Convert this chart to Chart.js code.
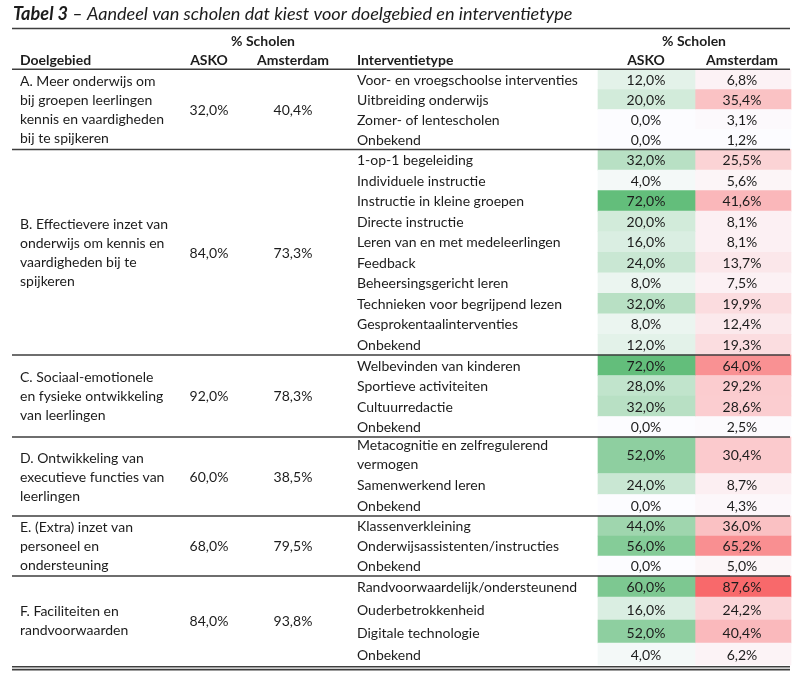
<!DOCTYPE html>
<html><head><meta charset="utf-8">
<script src="https://cdn.jsdelivr.net/npm/chart.js@4/dist/chart.umd.min.js"></script>
<style>html,body{margin:0;padding:0;background:#fff}canvas{display:block}</style>
</head><body>
<canvas id="c" width="799" height="684"></canvas>
<script>
// ---------- DATA ----------
const titleBold = "Tabel 3";
const titleRest = " \u2013 Aandeel van scholen dat kiest voor doelgebied en interventietype";
const groupHeader = "% Scholen";
const headersLeft = ["Doelgebied", "ASKO", "Amsterdam"];
const headersRight = ["Interventietype", "ASKO", "Amsterdam"];

const doelgebieden = [
  ["A. Meer onderwijs om", "bij groepen leerlingen", "kennis en vaardigheden", "bij te spijkeren"],
  ["B. Effectievere inzet van", "onderwijs om kennis en", "vaardigheden bij te", "spijkeren"],
  ["C. Sociaal-emotionele", "en fysieke ontwikkeling", "van leerlingen"],
  ["D. Ontwikkeling van", "executieve functies van", "leerlingen"],
  ["E. (Extra) inzet van", "personeel en", "ondersteuning"],
  ["F. Faciliteiten en", "randvoorwaarden"]
];
const doelAsko = [32.0, 84.0, 92.0, 60.0, 68.0, 84.0];
const doelAmsterdam = [40.4, 73.3, 78.3, 38.5, 79.5, 93.8];

const interventies = [
  "Voor- en vroegschoolse interventies", "Uitbreiding onderwijs", "Zomer- of lentescholen", "Onbekend",
  "1-op-1 begeleiding", "Individuele instructie", "Instructie in kleine groepen", "Directe instructie",
  "Leren van en met medeleerlingen", "Feedback", "Beheersingsgericht leren", "Technieken voor begrijpend lezen",
  "Gesprokentaalinterventies", "Onbekend",
  "Welbevinden van kinderen", "Sportieve activiteiten", "Cultuurredactie", "Onbekend",
  "Metacognitie en zelfregulerend\nvermogen", "Samenwerkend leren", "Onbekend",
  "Klassenverkleining", "Onderwijsassistenten/instructies", "Onbekend",
  "Randvoorwaardelijk/ondersteunend", "Ouderbetrokkenheid", "Digitale technologie", "Onbekend"
];
const interventieGroep = [0,0,0,0, 1,1,1,1,1,1,1,1,1,1, 2,2,2,2, 3,3,3, 4,4,4, 5,5,5,5];
const askoValues = [12.0, 20.0, 0.0, 0.0,
  32.0, 4.0, 72.0, 20.0, 16.0, 24.0, 8.0, 32.0, 8.0, 12.0,
  72.0, 28.0, 32.0, 0.0,
  52.0, 24.0, 0.0,
  44.0, 56.0, 0.0,
  60.0, 16.0, 52.0, 4.0];
const amsterdamValues = [6.8, 35.4, 3.1, 1.2,
  25.5, 5.6, 41.6, 8.1, 8.1, 13.7, 7.5, 19.9, 12.4, 19.3,
  64.0, 29.2, 28.6, 2.5,
  30.4, 8.7, 4.3,
  36.0, 65.2, 5.0,
  87.6, 24.2, 40.4, 6.2];

// ---------- LAYOUT ----------
const W = 799, H = 684;
const RULE_L = 12, RULE_R = 790;
const COL = { doel: 20, askoL: 209, amsL: 293, groupL: 263, inter: 357, askoR: 646, amsR: 742, groupR: 694 };
const CELL = { askoC: 646.5, askoW: 97, amsC: 743, amsW: 96 };
const BODY_TOP = 69.5;
const rowHeights = [20,20,20,20,
  20.55,20.55,20.55,20.55,20.55,20.55,20.55,20.55,20.55,20.55,
  20.5,20.5,20.5,20.5,
  36.5,21,21.5,
  20,20,20,
  21,23,23,22];
const rowTop = [], rowBot = [];
{ let y = BODY_TOP; rowHeights.forEach(h => { rowTop.push(y); y += h; rowBot.push(y); }); }

const FAMILY = "Lato, 'Open Sans', 'DejaVu Sans', sans-serif";
const TEXT = "#1c1c1c";
const LINE = "#3e3e3e";

const fmt = v => v.toFixed(1).replace('.', ',') + '%';
function mix(c0, c1, t) {
  t = Math.max(0, Math.min(1, t));
  const r = Math.round(c0[0] + (c1[0] - c0[0]) * t);
  const g = Math.round(c0[1] + (c1[1] - c0[1]) * t);
  const b = Math.round(c0[2] + (c1[2] - c0[2]) * t);
  return `rgb(${r},${g},${b})`;
}
const WHITE = [252,252,255], GREEN = [99,190,123], RED = [248,105,107];
const aMin = Math.min(...askoValues), aMax = Math.max(...askoValues);
const mMin = Math.min(...amsterdamValues), mMax = Math.max(...amsterdamValues);

// ---------- FONT FITTING ----------
const mctx = document.createElement('canvas').getContext('2d');
function fit(font, sample, target) {
  mctx.font = font.replace('SIZE', '100px');
  return 100 * target / mctx.measureText(sample).width;
}
let BODY_SIZE = 14, HEAD_SIZE = 14, TITLE_SIZE = 17;

const tablePlugin = {
  id: 'tableText',
  afterDatasetsDraw(chart) {
    const ctx = chart.ctx, xs = chart.scales.x, ys = chart.scales.y;
    const px = v => xs.getPixelForValue(v), py = v => ys.getPixelForValue(v);
    const bodyFont = `${BODY_SIZE}px ${FAMILY}`;
    const headFont = `bold ${HEAD_SIZE}px ${FAMILY}`;
    ctx.save();
    ctx.fillStyle = TEXT;
    ctx.textBaseline = 'middle';

    // Title
    ctx.textAlign = 'left';
    ctx.font = `italic bold ${TITLE_SIZE}px ${FAMILY}`;
    ctx.fillText(titleBold, px(13), py(14));
    const tw = ctx.measureText(titleBold).width;
    ctx.font = `italic ${TITLE_SIZE}px ${FAMILY}`;
    ctx.fillText(titleRest, px(13) + tw, py(14));

    // Headers
    ctx.font = headFont;
    ctx.textAlign = 'center';
    ctx.fillText(groupHeader, px(COL.groupL), py(41));
    ctx.fillText(groupHeader, px(COL.groupR), py(41));
    ctx.textAlign = 'left';
    ctx.fillText(headersLeft[0], px(COL.doel), py(60));
    ctx.fillText(headersRight[0], px(COL.inter), py(60));
    ctx.textAlign = 'center';
    ctx.fillText(headersLeft[1], px(COL.askoL), py(60));
    ctx.fillText(headersLeft[2], px(COL.amsL), py(60));
    ctx.fillText(headersRight[1], px(COL.askoR), py(60));
    ctx.fillText(headersRight[2], px(COL.amsR), py(60));

    // Body rows
    ctx.font = bodyFont;
    interventies.forEach((lab, i) => {
      const lines = lab.split('\n');
      const lastY = rowBot[i] - 9.5;
      ctx.textAlign = 'left';
      lines.forEach((ln, k) => {
        ctx.fillText(ln, px(COL.inter), py(lastY - (lines.length - 1 - k) * 18.5));
      });
      const vy = lines.length > 1 ? (rowTop[i] + rowBot[i]) / 2 + 0.5 : lastY;
      ctx.textAlign = 'center';
      ctx.fillText(fmt(askoValues[i]), px(COL.askoR), py(vy));
      ctx.fillText(fmt(amsterdamValues[i]), px(COL.amsR), py(vy));
    });

    // Group labels
    const groupBounds = doelgebieden.map((_, g) => {
      const idx = interventieGroep.map((gg, i) => gg === g ? i : -1).filter(i => i >= 0);
      return [rowTop[idx[0]], rowBot[idx[idx.length - 1]]];
    });
    doelgebieden.forEach((lines, g) => {
      const [t, b] = groupBounds[g];
      const c = (t + b) / 2 + 0.8;
      const lh = 18.9;
      ctx.textAlign = 'left';
      lines.forEach((ln, k) => {
        ctx.fillText(ln, px(COL.doel), py(c + (k - (lines.length - 1) / 2) * lh));
      });
      ctx.textAlign = 'center';
      ctx.fillText(fmt(doelAsko[g]), px(COL.askoL), py(c));
      ctx.fillText(fmt(doelAmsterdam[g]), px(COL.amsL), py(c));
    });

    // Rules
    ctx.strokeStyle = LINE;
    ctx.lineWidth = 1.6;
    const hline = y => { ctx.beginPath(); ctx.moveTo(px(RULE_L), py(y)); ctx.lineTo(px(RULE_R), py(y)); ctx.stroke(); };
    hline(28.5);
    hline(BODY_TOP - 0.3);
    groupBounds.slice(0, -1).forEach(([t, b]) => hline(b));
    const end = groupBounds[groupBounds.length - 1][1];
    hline(end + 1.8);
    hline(end + 4.6);
    ctx.restore();
  }
};

function build() {
  BODY_SIZE = fit(`SIZE ${FAMILY}`, "Voor- en vroegschoolse interventies", 221);
  HEAD_SIZE = fit(`bold SIZE ${FAMILY}`, "Interventietype", 96.5);
  mctx.font = `italic bold 100px ${FAMILY}`;
  const a = mctx.measureText(titleBold).width;
  mctx.font = `italic 100px ${FAMILY}`;
  const b = mctx.measureText(titleRest).width;
  TITLE_SIZE = 100 * 560 / (a + b);

  new Chart(document.getElementById('c'), {
    type: 'bar',
    data: {
      datasets: [
        {
          label: 'ASKO',
          data: interventies.map((_, i) => ({ x: CELL.askoC, y: [rowTop[i], rowBot[i]] })),
          backgroundColor: ctx => mix(WHITE, GREEN, (askoValues[ctx.dataIndex] - aMin) / (aMax - aMin)),
          barThickness: CELL.askoW,
          grouped: false,
          borderWidth: 0
        },
        {
          label: 'Amsterdam',
          data: interventies.map((_, i) => ({ x: CELL.amsC, y: [rowTop[i], rowBot[i]] })),
          backgroundColor: ctx => mix(WHITE, RED, (amsterdamValues[ctx.dataIndex] - mMin) / (mMax - mMin)),
          barThickness: CELL.amsW,
          grouped: false,
          borderWidth: 0
        }
      ]
    },
    options: {
      responsive: false,
      animation: false,
      devicePixelRatio: 1,
      layout: { padding: 0 },
      plugins: { legend: { display: false }, tooltip: { enabled: false }, title: { display: false } },
      scales: {
        x: { type: 'linear', min: 0, max: W, display: false, offset: false },
        y: { type: 'linear', min: 0, max: H, reverse: true, display: false }
      }
    },
    plugins: [tablePlugin]
  });
}
if (document.fonts && document.fonts.load) {
  Promise.all([
    document.fonts.load(`14px Lato`), document.fonts.load(`bold 14px Lato`),
    document.fonts.load(`italic 14px Lato`), document.fonts.load(`italic bold 14px Lato`)
  ]).then(build, build);
} else build();
</script>
</body></html>
